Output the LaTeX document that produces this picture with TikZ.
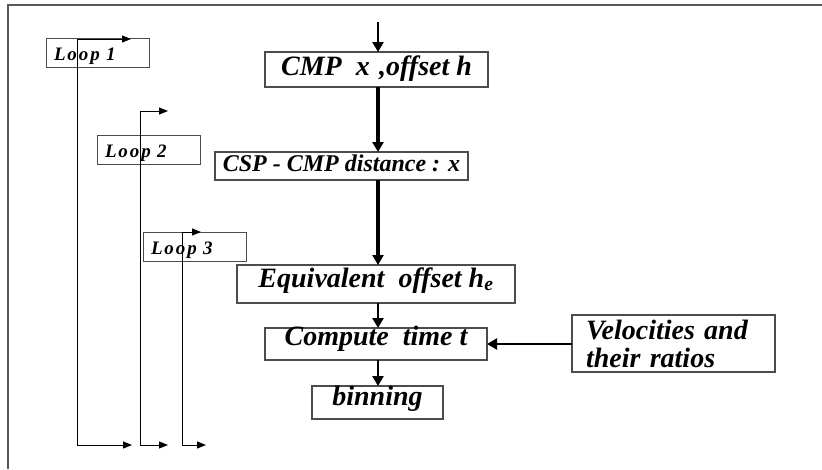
\documentclass[tikz,border=0pt]{standalone}
\usepackage{fontspec}
\setmainfont{Liberation Serif}
\newfontfamily\loopfont[LetterSpace=10]{Liberation Serif}
\usetikzlibrary{arrows.meta}

\begin{document}
\begin{tikzpicture}[x=1pt, y=-1pt,
      box/.style={draw=black!70, line width=1.2pt, anchor=north west, outer sep=0pt,
        inner xsep=0pt, inner ysep=0pt, font=\fontsize{28}{28}\selectfont\bfseries\itshape},
      loopbox/.style={draw=black!70, line width=1pt, anchor=north west, outer sep=0pt,
        inner xsep=8pt, inner ysep=0pt, text width=87pt, align=left,
        text height=22pt, text depth=7pt, font=\fontsize{19}{20}\loopfont\bfseries\itshape},
      loopline/.style={line width=1pt, {Triangle[length=9pt,width=7pt]}-{Triangle[length=9pt,width=7pt]}},
      flow/.style={line width=2.5pt, -{Triangle[length=10pt,width=11pt]}},
      bigflow/.style={line width=3.5pt, -{Triangle[length=10pt,width=11pt]}}]

      \useasboundingbox (0,0) rectangle (822,469);
      \draw[black!65, line width=1.5pt] (8,469) -- (8,5) -- (822,5);

      % loop boxes
      \node[loopbox] (loop1) at (46,38) {Loop 1};
      \node[loopbox] (loop2) at (97,135) {Loop 2};
      \node[loopbox] (loop3) at (143,232) {Loop 3};

      % main chain
      \node[box, minimum width=223pt, text height=23pt, text depth=12pt] (cmp) at (265,52) {CMP\ \ x\,\,,offset h};
      \node[box, minimum width=253pt, text height=19pt, text depth=9pt, font=\fontsize{24}{28}\selectfont\bfseries\itshape] (csp) at (215,152) {CSP - CMP\ distance\ : x};
      \node[box, minimum width=278pt, text height=22pt, text depth=16pt] (equiv) at (237,265) {Equivalent\ \ offset h\textsubscript{e}};
      \node[box, minimum width=222pt, text height=17pt, text depth=15pt] (compute) at (265,328) {Compute\ \ time t};
      \node[box, minimum width=131pt, text height=19pt, text depth=14pt] (binning) at (312,386) {binning};
      \node[box, minimum height=57pt, inner xsep=14pt, text width=175pt, align=left] (velo) at (572,315) {Velocities and\\their ratios};

      \coordinate (start) at ([xshift=1.5pt, yshift=30pt]cmp.north);

      % loop lines
      \coordinate (l1tip) at (131,39);  \coordinate (l1top) at (77,39);
      \coordinate (l1bot) at (77,445);  \coordinate (l1end) at (132,445);
      \coordinate (l2tip) at (168,111); \coordinate (l2top) at (140,111);
      \coordinate (l2bot) at (140,445); \coordinate (l2end) at (168,445);
      \coordinate (l3tip) at (201,232); \coordinate (l3top) at (182,232);
      \coordinate (l3bot) at (182,445); \coordinate (l3end) at (206,445);

      \draw[loopline] (l1tip) -- (l1top) -- (l1bot) -- (l1end);
      \draw[loopline] (l2tip) -- (l2top) -- (l2bot) -- (l2end);
      \draw[loopline] (l3tip) -- (l3top) -- (l3bot) -- (l3end);

      \draw[flow] (start) -- (start |- cmp.north);
      \draw[bigflow] (start |- cmp.south) -- (start |- csp.north);
      \draw[bigflow] (start |- csp.south) -- (start |- equiv.north);
      \draw[flow] (start |- equiv.south) -- (start |- compute.north);
      \draw[flow] (start |- compute.south) -- (start |- binning.north);
      \draw[flow] (velo.west |- compute.east) -- (compute.east);

    \end{tikzpicture}
\end{document}
